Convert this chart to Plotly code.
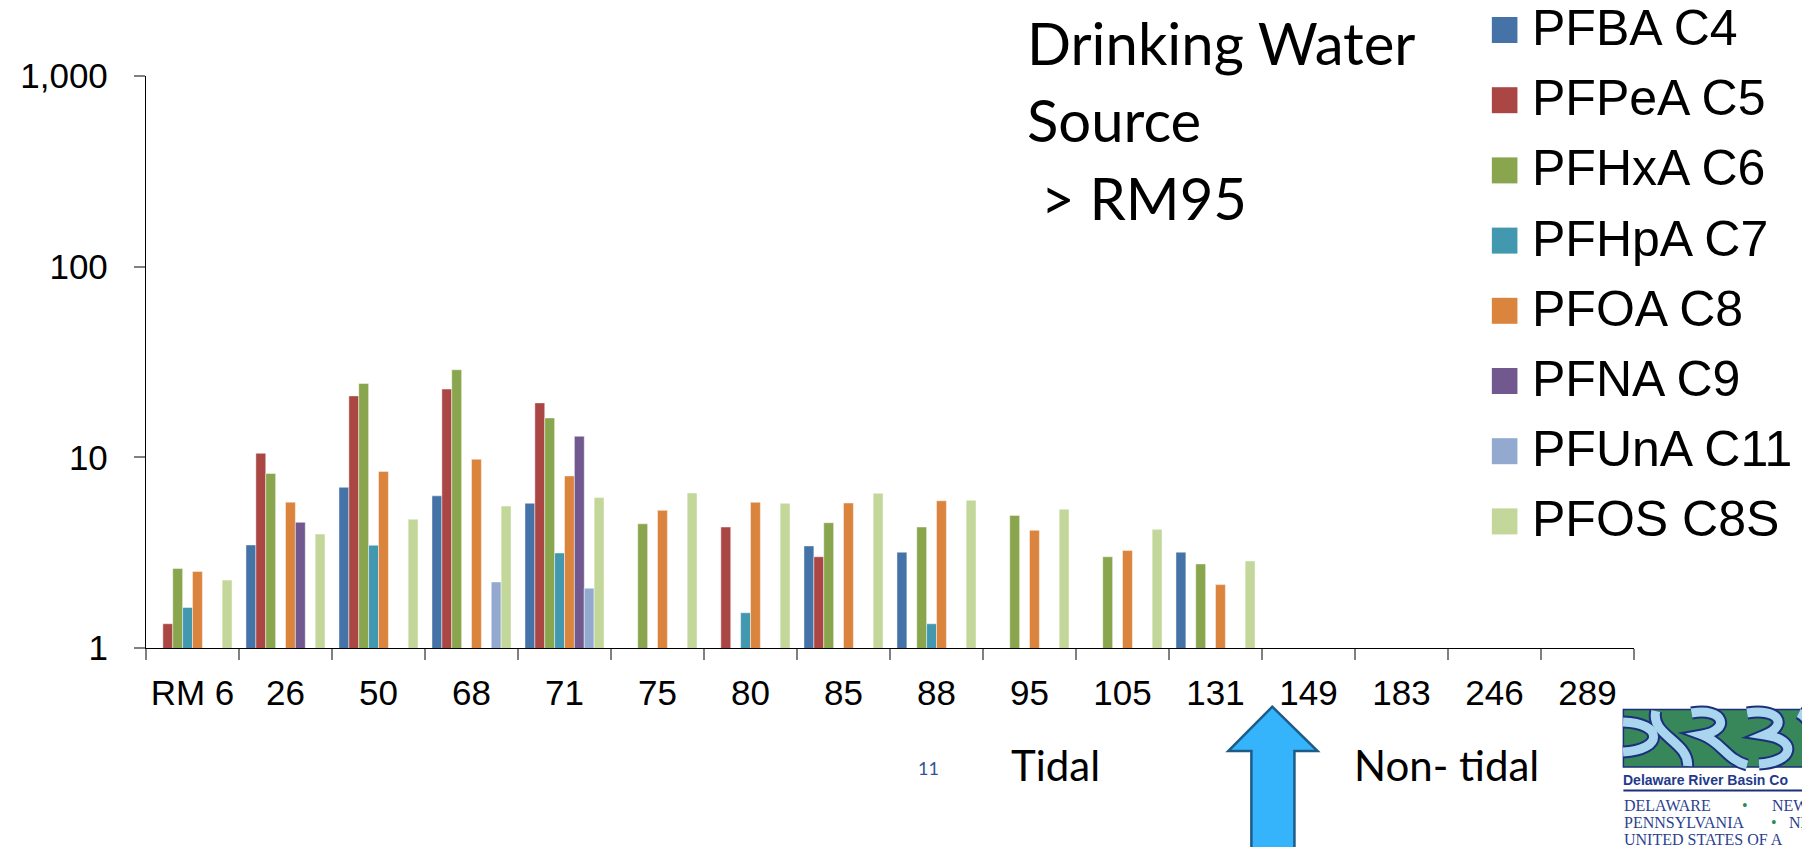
import plotly.graph_objects as go

# ---------------- data ----------------
categories = ["RM 6", "26", "50", "68", "71", "75", "80", "85", "88", "95",
              "105", "131", "149", "183", "246", "289"]

series_names = ["PFBA C4", "PFPeA C5", "PFHxA C6", "PFHpA C7",
                "PFOA C8", "PFNA C9", "PFUnA C11", "PFOS C8S"]

pfba = [None, 3.47, 6.96, 6.28, 5.74, None, None, 3.43, 3.18, None, None, 3.18, None, None, None, None]
pfpea = [1.34, 10.5, 21.0, 22.8, 19.3, None, 4.31, 3.01, None, None, None, None, None, None, None, None]
pfhxa = [2.61, 8.22, 24.4, 28.8, 16.1, 4.48, None, 4.54, 4.31, 4.96, 3.01, 2.76, None, None, None, None]
pfhpa = [1.63, None, 3.46, None, 3.15, None, 1.53, None, 1.34, None, None, None, None, None, None, None]
pfoa = [2.52, 5.82, 8.44, 9.77, 7.99, 5.27, 5.81, 5.76, 5.92, 4.14, 3.25, 2.15, None, None, None, None]
pfna = [None, 4.56, None, None, 12.9, None, None, None, None, None, None, None, None, None, None, None]
pfuna = [None, None, None, 2.22, 2.06, None, None, None, None, None, None, None, None, None, None, None]
pfos = [2.27, 3.96, 4.74, 5.55, 6.15, 6.50, 5.74, 6.48, 5.95, 5.34, 4.19, 2.86, None, None, None, None]

series_values = [pfba, pfpea, pfhxa, pfhpa, pfoa, pfna, pfuna, pfos]
series_colors = ["#4572A7", "#AA4643", "#89A54E", "#4198AF",
                 "#DB843D", "#71588F", "#93A9CF", "#C4D79B"]

y_tickvals = [1, 10, 100, 1000]
y_ticktext = ["1", "10", "100", "1,000"]

# ---------------- layout helpers (page pixel -> paper) ----------------
OFF = 8                      # default body margin of the html page
W, H = 1810 - OFF, 847 - OFF
L, T = 134 - OFF, 76 - OFF
R = W - (1634 - OFF)
B = H - (648 - OFF)
PW, PH = W - L - R, H - T - B


def px(x):
    return (x - OFF - L) / PW


def py(y):
    return (H - B - (y - OFF)) / PH


fig = go.Figure()
for name, vals, col in zip(series_names, series_values, series_colors):
    fig.add_trace(go.Bar(
        x=categories, y=vals, name=name,
        marker=dict(color=col, line=dict(color="rgba(255,255,255,0.45)", width=1)),
        showlegend=False,
    ))

shapes = []
annotations = []

# manual legend
leg_y0, leg_step = 30, 70.2
for i, (name, col) in enumerate(zip(series_names, series_colors)):
    cy = leg_y0 + i * leg_step
    shapes.append(dict(type="rect", xref="paper", yref="paper",
                       x0=px(1490.7), x1=px(1516.5), y0=py(cy + 13), y1=py(cy - 13),
                       fillcolor=col, line=dict(width=0)))
    annotations.append(dict(text=name, xref="paper", yref="paper",
                            x=px(1529), y=py(cy - 2), xanchor="left", yanchor="middle",
                            showarrow=False,
                            font=dict(family="Liberation Sans, Arial", size=50, color="black")))

calibri = "Lato, Open Sans, sans-serif"
for txt, x, y in [("Drinking Water", 1020, 43), ("Source", 1020, 120), ("&gt; RM95", 1034, 197)]:
    annotations.append(dict(text=txt, xref="paper", yref="paper", x=px(x), y=py(y),
                            xanchor="left", yanchor="middle", showarrow=False,
                            font=dict(family=calibri, size=58, color="black")))

annotations.append(dict(text="Tidal", xref="paper", yref="paper", x=px(1004), y=py(765),
                        xanchor="left", yanchor="middle", showarrow=False,
                        font=dict(family=calibri, size=42, color="black")))
annotations.append(dict(text="Non- tidal", xref="paper", yref="paper", x=px(1350), y=py(765),
                        xanchor="left", yanchor="middle", showarrow=False,
                        font=dict(family=calibri, size=42, color="black")))
annotations.append(dict(text="11", xref="paper", yref="paper", x=px(923), y=py(768),
                        xanchor="center", yanchor="middle", showarrow=False,
                        font=dict(family=calibri, size=18, color="#2F5597")))

# arrow
arrow_path = (f"M {px(1269.3)},{py(706.7)} L {px(1315)},{py(751)} L {px(1291.7)},{py(751)} "
              f"L {px(1291.7)},{py(852)} L {px(1248.3)},{py(852)} L {px(1248.3)},{py(751)} "
              f"L {px(1225)},{py(751)} Z")
shapes.append(dict(type="path", xref="paper", yref="paper", path=arrow_path,
                   fillcolor="#35B4FB", line=dict(color="#1E5C87", width=2.5)))

# DRBC logo (approximation)
shapes.append(dict(type="rect", xref="paper", yref="paper",
                   x0=px(1623.3), x1=px(1815), y0=py(767), y1=py(709.5),
                   fillcolor="#37875A", line=dict(color="#1B2F7A", width=1.5)))


def curve(points):
    s = f"M {px(points[0][0])},{py(points[0][1])}"
    rest = points[1:]
    for k in range(0, len(rest), 3):
        a, b, c = rest[k], rest[k + 1], rest[k + 2]
        s += (f" C {px(a[0])},{py(a[1])} {px(b[0])},{py(b[1])} {px(c[0])},{py(c[1])}")
    return s


logo_curves = [
    [(1623, 722), (1664, 723), (1664, 750), (1623, 752)],
    [(1656, 711), (1650, 735), (1690, 742), (1688, 766)],
    [(1692, 713), (1725, 707), (1732, 730), (1703, 735), (1722, 742), (1728, 760), (1748, 765)],
    [(1748, 713), (1780, 708), (1790, 725), (1766, 735), (1800, 740), (1795, 762), (1760, 764)],
    [(1800, 713), (1815, 720), (1815, 740), (1810, 760)],
]
for pts in logo_curves:
    shapes.append(dict(type="path", xref="paper", yref="paper", path=curve(pts),
                       fillcolor="rgba(0,0,0,0)", line=dict(color="#1B2F7A", width=13)))
for pts in logo_curves:
    shapes.append(dict(type="path", xref="paper", yref="paper", path=curve(pts),
                       fillcolor="rgba(0,0,0,0)", line=dict(color="#A9D5EF", width=9)))

shapes.append(dict(type="line", xref="paper", yref="paper",
                   x0=px(1623.3), x1=px(1815), y0=py(790.5), y1=py(790.5),
                   line=dict(color="#1B2F7A", width=2)))

annotations.append(dict(text="<b>Delaware River Basin Co</b>", xref="paper", yref="paper",
                        x=px(1621), y=py(780), xanchor="left", yanchor="middle", showarrow=False,
                        font=dict(family="Liberation Sans Narrow, Arial Narrow, Liberation Sans",
                                  size=14, color="#1F3A8C")))
serif = "Liberation Serif, Times New Roman, serif"
for txt, x, y, col in [("DELAWARE", 1622, 805, "#2B3F8F"), ("•", 1741, 805, "#2E8B57"),
                       ("NEW", 1771, 805, "#2B3F8F"),
                       ("PENNSYLVANIA", 1622, 822.5, "#2B3F8F"), ("•", 1770, 822.5, "#2E8B57"),
                       ("NE", 1788, 822.5, "#2B3F8F"),
                       ("UNITED STATES OF A", 1622, 839.5, "#2B3F8F")]:
    annotations.append(dict(text=txt, xref="paper", yref="paper", x=px(x), y=py(y),
                            xanchor="left", yanchor="middle", showarrow=False,
                            font=dict(family=serif, size=16, color=col)))

fig.update_layout(
    width=W, height=H,
    margin=dict(l=L, r=R, t=T, b=B, pad=0),
    paper_bgcolor="white", plot_bgcolor="white",
    barmode="group", bargap=0.15, bargroupgap=0,
    showlegend=False,
    shapes=shapes, annotations=annotations,
    font=dict(family="Liberation Sans, Arial", color="black"),
)
fig.update_xaxes(
    type="category", range=[-0.5, len(categories) - 0.5],
    showline=True, linecolor="black", linewidth=1.3,
    ticks="outside", tickson="boundaries", ticklen=11, tickwidth=1.5, tickcolor="#808080",
    tickfont=dict(family="Liberation Sans, Arial", size=35, color="black"),
    tickangle=0, ticklabelstandoff=14,
    showgrid=False, zeroline=False,
)
fig.update_yaxes(
    type="log", range=[0, 3],
    tickvals=y_tickvals, ticktext=y_ticktext,
    showline=True, linecolor="black", linewidth=1.3,
    ticks="outside", ticklen=11, tickwidth=1.5, tickcolor="#808080",
    tickfont=dict(family="Liberation Sans, Arial", size=35, color="black"),
    ticklabelstandoff=19,
    showgrid=False, zeroline=False,
)

fig.write_html("out.html")
